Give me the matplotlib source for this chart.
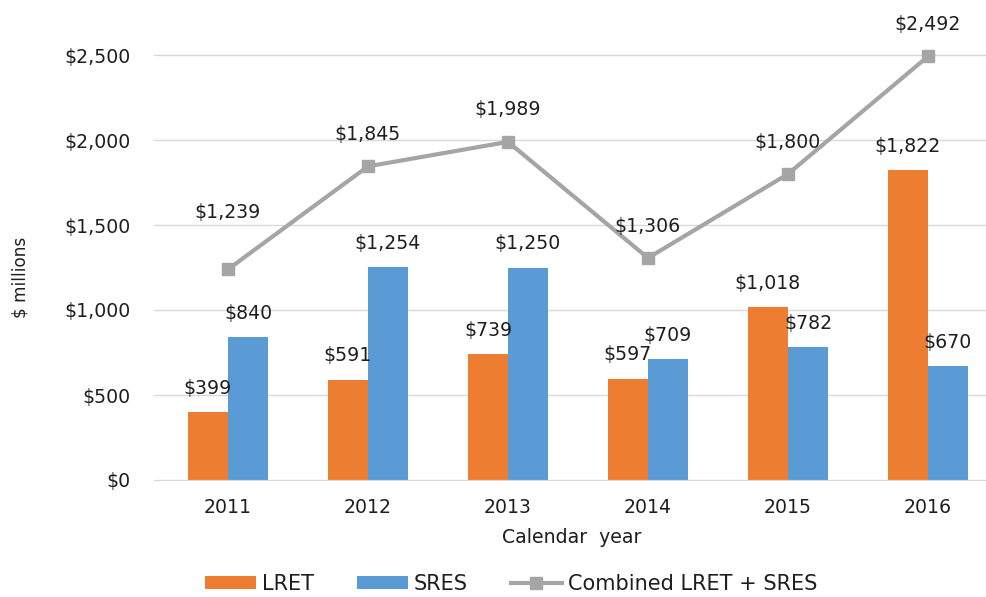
import matplotlib
matplotlib.use("Agg")
import matplotlib.pyplot as plt
import numpy as np

years = ["2011", "2012", "2013", "2014", "2015", "2016"]
lret = [399, 591, 739, 597, 1018, 1822]
sres = [840, 1254, 1250, 709, 782, 670]
combined = [1239, 1845, 1989, 1306, 1800, 2492]
yticks = [0, 500, 1000, 1500, 2000, 2500]

plt.rcParams['font.family'] = ['DejaVu Sans']
txt = '#1e1e1e'
orange = '#ED7D31'
blue = '#5B9BD5'
gray = '#A5A5A5'
FS = 13.6

fig = plt.figure(figsize=(9.87, 5.97), dpi=100)
ax = fig.add_axes([157/987, (597-480)/597, (987-157)/987, (480-21)/597])

x = np.arange(len(years))
w = 0.2857
b1 = ax.bar(x - w/2, lret, w, color=orange, label='LRET', zorder=2)
b2 = ax.bar(x + w/2, sres, w, color=blue, label='SRES', zorder=2)
ln, = ax.plot(x, combined, color=gray, lw=3, marker='s', markersize=8,
              label='Combined LRET + SRES', zorder=3)

def fmt(v):
    return "${:,}".format(v)

for xi, v in zip(x - w/2, lret):
    ax.annotate(fmt(v), (xi, v), xytext=(0, 17), textcoords='offset points',
                ha='center', va='center', fontsize=FS, color=txt, zorder=4)
for xi, v in zip(x + w/2, sres):
    ax.annotate(fmt(v), (xi, v), xytext=(0, 17), textcoords='offset points',
                ha='center', va='center', fontsize=FS, color=txt, zorder=4)
for i, (xi, v) in enumerate(zip(x, combined)):
    off = 41 if i == 0 else 23
    ax.annotate(fmt(v), (xi, v), xytext=(0, off), textcoords='offset points',
                ha='center', va='center', fontsize=FS, color=txt, zorder=4)

ax.set_xlim(-0.507, -0.507 + 830/140)
ax.set_ylim(0, 2700)
ax.set_yticks(yticks)
ax.set_yticklabels([fmt(v) for v in yticks], fontsize=FS, color=txt)
ax.set_xticks(x)
ax.set_xticklabels(years, fontsize=FS, color=txt)
ax.tick_params(axis='x', length=0, pad=13)
ax.tick_params(axis='y', length=3, color='#D9D9D9', pad=16)
ax.grid(axis='y', color='#D9D9D9', lw=1, zorder=0)
ax.set_axisbelow(True)
for s in ['top', 'right', 'left']:
    ax.spines[s].set_visible(False)
ax.spines['bottom'].set_color('#D9D9D9')

ax.set_xlabel('Calendar  year', fontsize=FS, color=txt, labelpad=8)
ax.set_ylabel('$ millions', fontsize=12.2, color=txt)
ax.yaxis.set_label_coords(-(157 - 30)/830, (480 - 277)/459)

fig.legend(handles=[b1, b2, ln], loc='center', bbox_to_anchor=(511/987, 1 - 584/597),
           ncol=3, frameon=False, fontsize=15, handlelength=2.45, handleheight=0.6,
           columnspacing=2.07, handletextpad=0.29, labelcolor=txt)

fig.savefig('out.png', dpi=100, facecolor='white')
